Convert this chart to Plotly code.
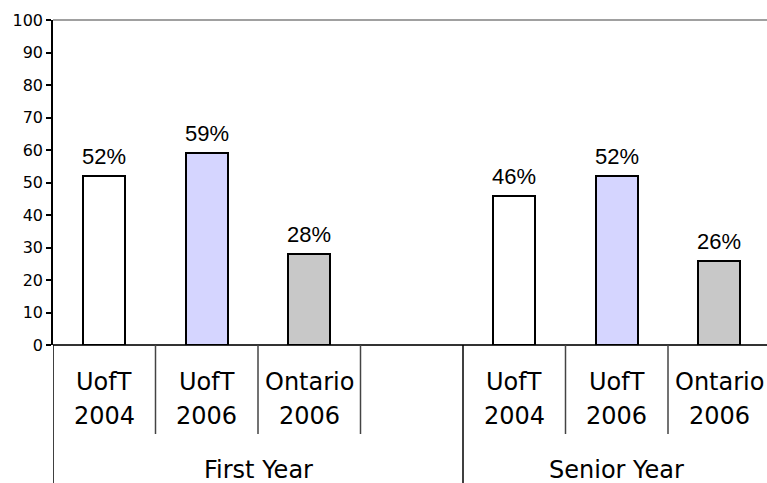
import plotly.graph_objects as go

# ---- data ----
groups = ["First Year", "Senior Year"]
series_line1 = ["UofT", "UofT", "Ontario"]
series_line2 = ["2004", "2006", "2006"]
first_year = [52, 59, 28]
senior_year = [46, 52, 26]
bar_colors = ["#FFFFFF", "#D5D5FF", "#C8C8C8"]
y_ticks = list(range(0, 101, 10))

# slot positions: 3 bars, one empty slot, 3 bars
x_pos = [0, 1, 2, 4, 5, 6]
values = first_year + senior_year
colors = bar_colors + bar_colors
labels = [f"{v}%" for v in values]

fig = go.Figure()
fig.add_trace(go.Bar(
    x=x_pos, y=values, width=0.41,
    marker=dict(color=colors, line=dict(color="black", width=2)),
    hoverinfo="skip", showlegend=False,
))

annotations = []
for x, v, t in zip(x_pos, values, labels):
    annotations.append(dict(
        x=x, y=v, xref="x", yref="y", text=t, showarrow=False,
        yanchor="bottom", yshift=5,
        font=dict(family="Liberation Sans Narrow, Arial Narrow, Liberation Sans", size=22, color="black"),
    ))

H = 325.0  # plot height px
def py(p):
    return (345 - p) / H

cat_font = dict(family="DejaVu Sans, Verdana, sans-serif", size=24, color="black")
for x, l1, l2 in zip(x_pos, series_line1 * 2, series_line2 * 2):
    annotations.append(dict(x=x, y=py(382), xref="x", yref="paper", text=l1,
                            showarrow=False, yanchor="middle", font=cat_font))
    annotations.append(dict(x=x, y=py(416), xref="x", yref="paper", text=l2,
                            showarrow=False, yanchor="middle", font=cat_font))
group_centers = [1.5, 5.0]
for gx, g in zip(group_centers, groups):
    annotations.append(dict(x=gx, y=py(470), xref="x", yref="paper", text=g,
                            showarrow=False, yanchor="middle", font=cat_font))

shapes = []
for sx in [0.5, 1.5, 2.5, 4.5, 5.5]:
    shapes.append(dict(type="line", xref="x", yref="paper", x0=sx, x1=sx,
                       y0=0, y1=py(434), line=dict(color="#444444", width=1.5)))
for sx in [-0.5, 3.5]:
    shapes.append(dict(type="line", xref="x", yref="paper", x0=sx, x1=sx,
                       y0=py(345), y1=py(484), line=dict(color="black", width=1.5)))
shapes.append(dict(type="line", xref="paper", yref="paper", x0=0, x1=1, y0=1, y1=1,
                   line=dict(color="#A0A0A0", width=2)))

fig.update_layout(
    width=767, height=483,
    margin=dict(l=53, r=0, t=20, b=138),
    paper_bgcolor="white", plot_bgcolor="white",
    bargap=0,
    xaxis=dict(range=[-0.5, -0.5 + 714 / 102.5], showticklabels=False, showgrid=False,
               zeroline=False, showline=False, ticks=""),
    yaxis=dict(range=[0, 100], tickvals=y_ticks, ticks="outside", ticklen=5,
               tickcolor="black", tickwidth=1.5, showline=True, linecolor="black",
               linewidth=1.5, showgrid=False, zeroline=True, zerolinecolor="#333333",
               zerolinewidth=1.5,
               tickfont=dict(family="DejaVu Sans, Verdana, sans-serif", size=16, color="black")),
    annotations=annotations, shapes=shapes,
)

fig.write_html(
    "out.html",
    config={"displayModeBar": False},
    post_script="document.body.style.margin='0';document.body.style.overflow='hidden';",
)
